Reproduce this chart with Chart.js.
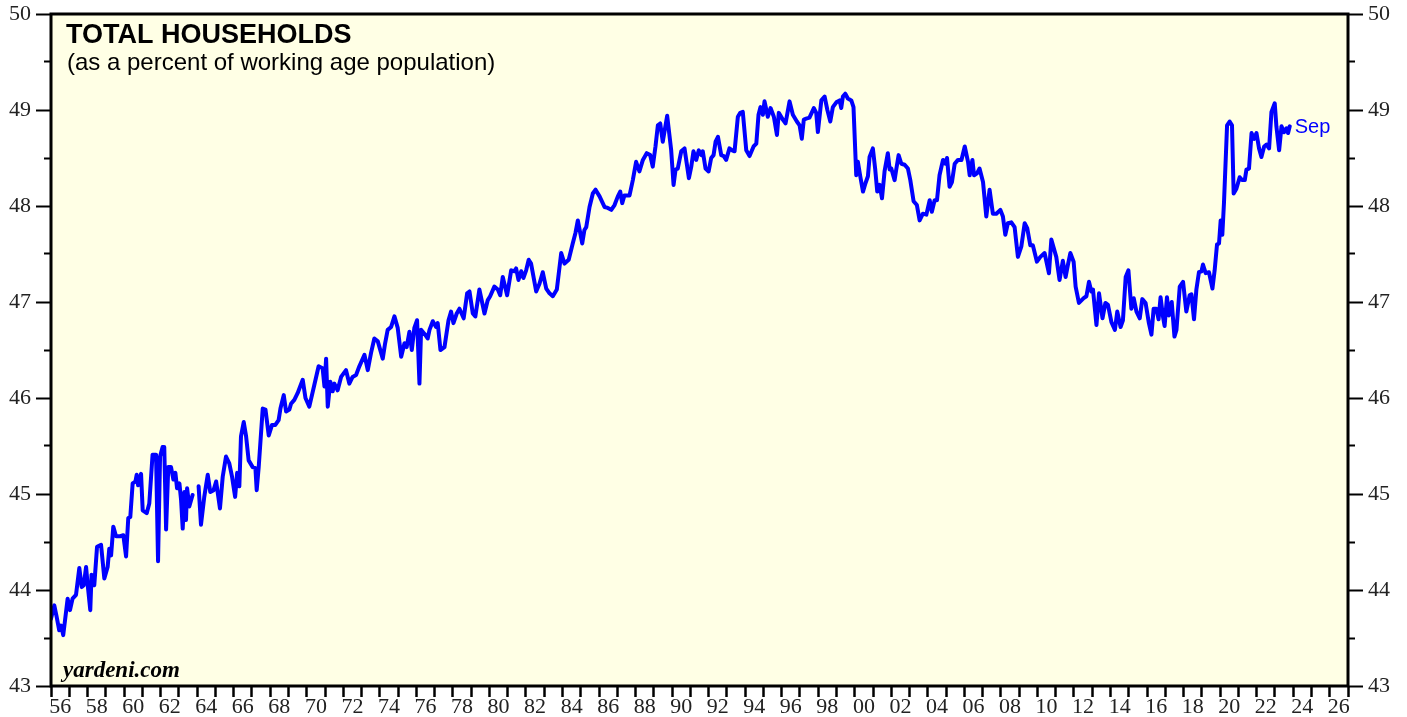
<!DOCTYPE html>
<html>
<head>
<meta charset="utf-8">
<title>Total Households</title>
<script src="https://cdn.jsdelivr.net/npm/chart.js@4.4.1/dist/chart.umd.min.js"></script>
<style>
	html, body { margin: 0; padding: 0; background: #ffffff; }
	#wrap { position: relative; width: 1407px; height: 717px; }
</style>
</head>
<body>
<div id="wrap"><canvas id="householdsChart"></canvas></div>
<script>
// decimal year of each reading (null value = break in the series)
var dates = [
	1956.00, 1956.18, 1956.31, 1956.45, 1956.55, 1956.67, 1956.91, 1957.04, 1957.18, 1957.37,
	1957.55, 1957.68, 1957.79, 1957.92, 1958.00, 1958.15, 1958.22, 1958.37, 1958.52, 1958.74,
	1958.92, 1959.10, 1959.19, 1959.29, 1959.41, 1959.56, 1959.79, 1959.96, 1960.11, 1960.23,
	1960.34, 1960.47, 1960.62, 1960.69, 1960.77, 1960.93, 1961.02, 1961.24, 1961.38, 1961.56,
	1961.75, 1961.86, 1961.97, 1962.11, 1962.20, 1962.30, 1962.42, 1962.57, 1962.70, 1962.81,
	1962.90, 1963.03, 1963.12, 1963.21, 1963.30, 1963.39, 1963.45, 1963.57, 1963.75, 1963.90,
	1964.08, 1964.21, 1964.39, 1964.58, 1964.72, 1964.90, 1965.04, 1965.25, 1965.40, 1965.58,
	1965.76, 1965.91, 1966.08, 1966.19, 1966.31, 1966.40, 1966.55, 1966.68, 1966.82, 1967.04,
	1967.19, 1967.26, 1967.37, 1967.59, 1967.74, 1967.92, 1968.10, 1968.28, 1968.46, 1968.56,
	1968.74, 1968.87, 1969.05, 1969.14, 1969.32, 1969.50, 1969.78, 1969.93, 1970.14, 1970.42,
	1970.65, 1970.87, 1970.97, 1971.06, 1971.15, 1971.29, 1971.42, 1971.51, 1971.69, 1971.88,
	1972.15, 1972.33, 1972.51, 1972.70, 1972.88, 1973.16, 1973.34, 1973.52, 1973.70, 1973.89,
	1974.16, 1974.29, 1974.43, 1974.62, 1974.80, 1974.98, 1975.17, 1975.35, 1975.47, 1975.62,
	1975.75, 1975.89, 1976.04, 1976.17, 1976.26, 1976.44, 1976.62, 1976.72, 1976.90, 1977.08,
	1977.17, 1977.32, 1977.54, 1977.76, 1977.90, 1978.03, 1978.21, 1978.36, 1978.59, 1978.78,
	1978.91, 1979.09, 1979.23, 1979.45, 1979.73, 1979.91, 1980.04, 1980.27, 1980.46, 1980.59,
	1980.73, 1980.97, 1981.19, 1981.37, 1981.46, 1981.59, 1981.74, 1981.86, 1982.01, 1982.15,
	1982.28, 1982.56, 1982.74, 1982.92, 1983.11, 1983.29, 1983.47, 1983.69, 1983.93, 1984.11,
	1984.34, 1984.56, 1984.71, 1984.84, 1985.08, 1985.20, 1985.30, 1985.48, 1985.66, 1985.81,
	1986.03, 1986.30, 1986.48, 1986.67, 1986.85, 1987.03, 1987.16, 1987.27, 1987.39, 1987.67,
	1987.85, 1988.03, 1988.21, 1988.40, 1988.61, 1988.80, 1988.94, 1989.09, 1989.22, 1989.35,
	1989.49, 1989.73, 1989.95, 1990.08, 1990.19, 1990.31, 1990.50, 1990.68, 1990.92, 1991.05,
	1991.17, 1991.32, 1991.46, 1991.60, 1991.68, 1991.83, 1992.00, 1992.14, 1992.27, 1992.38,
	1992.51, 1992.69, 1992.83, 1992.96, 1993.14, 1993.29, 1993.42, 1993.60, 1993.73, 1993.87,
	1994.06, 1994.24, 1994.46, 1994.61, 1994.73, 1994.84, 1994.97, 1995.06, 1995.24, 1995.39,
	1995.57, 1995.74, 1995.84, 1996.06, 1996.21, 1996.43, 1996.61, 1996.83, 1996.98, 1997.10,
	1997.21, 1997.34, 1997.52, 1997.76, 1997.89, 1997.98, 1998.17, 1998.35, 1998.50, 1998.66,
	1998.80, 1998.99, 1999.17, 1999.26, 1999.35, 1999.48, 1999.62, 1999.81, 1999.93, 2000.08,
	2000.17, 2000.30, 2000.45, 2000.59, 2000.72, 2000.81, 2000.99, 2001.12, 2001.23, 2001.36,
	2001.49, 2001.63, 2001.81, 2001.91, 2002.00, 2002.18, 2002.27, 2002.40, 2002.55, 2002.73,
	2002.91, 2003.04, 2003.22, 2003.40, 2003.55, 2003.73, 2003.92, 2004.10, 2004.22, 2004.37,
	2004.50, 2004.64, 2004.83, 2004.96, 2005.05, 2005.19, 2005.32, 2005.47, 2005.65, 2005.84,
	2006.02, 2006.20, 2006.29, 2006.44, 2006.53, 2006.69, 2006.83, 2007.02, 2007.20, 2007.38,
	2007.56, 2007.75, 2007.97, 2008.11, 2008.24, 2008.38, 2008.57, 2008.75, 2008.93, 2009.12,
	2009.30, 2009.44, 2009.61, 2009.75, 2009.97, 2010.16, 2010.39, 2010.63, 2010.76, 2011.03,
	2011.21, 2011.39, 2011.54, 2011.67, 2011.80, 2011.98, 2012.09, 2012.27, 2012.53, 2012.68,
	2012.82, 2012.95, 2013.04, 2013.23, 2013.37, 2013.56, 2013.72, 2013.86, 2014.05, 2014.24,
	2014.37, 2014.55, 2014.68, 2014.83, 2014.98, 2015.14, 2015.27, 2015.42, 2015.60, 2015.74,
	2015.92, 2016.10, 2016.24, 2016.36, 2016.51, 2016.63, 2016.74, 2016.87, 2016.96, 2017.09,
	2017.20, 2017.35, 2017.50, 2017.61, 2017.79, 2017.97, 2018.15, 2018.33, 2018.43, 2018.57,
	2018.70, 2018.84, 2018.98, 2019.06, 2019.21, 2019.39, 2019.58, 2019.70, 2019.83, 2019.94,
	2020.03, 2020.12, 2020.21, 2020.38, 2020.52, 2020.65, 2020.74, 2020.89, 2021.07, 2021.20,
	2021.35, 2021.44, 2021.58, 2021.72, 2021.86, 2021.99, 2022.13, 2022.26, 2022.41, 2022.54,
	2022.68, 2022.81, 2022.99, 2023.08, 2023.23, 2023.36, 2023.50, 2023.63, 2023.72, 2023.81
];

// households as a percent of working age population
var households = [
	43.70, 43.84, 43.72, 43.58, 43.63, 43.53, 43.91, 43.79, 43.91, 43.95,
	44.23, 44.03, 44.05, 44.24, 44.07, 43.79, 44.16, 44.05, 44.45, 44.47,
	44.12, 44.24, 44.43, 44.36, 44.66, 44.56, 44.56, 44.57, 44.35, 44.75,
	44.76, 45.11, 45.13, 45.20, 45.09, 45.21, 44.83, 44.80, 44.90, 45.41,
	45.41, 44.30, 45.39, 45.49, 45.49, 44.63, 45.28, 45.28, 45.15, 45.22,
	45.06, 45.11, 44.94, 44.64, 45.02, 44.73, 45.06, 44.87, 44.99, null,
	45.08, 44.68, 44.97, 45.20, 45.02, 45.04, 45.13, 44.85, 45.18, 45.39,
	45.32, 45.18, 44.97, 45.22, 45.08, 45.60, 45.75, 45.60, 45.35, 45.28,
	45.27, 45.04, 45.28, 45.89, 45.88, 45.61, 45.72, 45.72, 45.77, 45.89,
	46.03, 45.86, 45.88, 45.94, 45.98, 46.05, 46.19, 46.00, 45.91, 46.14,
	46.33, 46.31, 46.12, 46.41, 45.91, 46.17, 46.07, 46.15, 46.08, 46.22,
	46.29, 46.15, 46.22, 46.24, 46.33, 46.45, 46.29, 46.47, 46.62, 46.59,
	46.41, 46.57, 46.71, 46.74, 46.85, 46.73, 46.43, 46.57, 46.53, 46.69,
	46.50, 46.73, 46.81, 46.15, 46.71, 46.67, 46.62, 46.71, 46.80, 46.74,
	46.78, 46.50, 46.53, 46.81, 46.90, 46.78, 46.88, 46.93, 46.83, 47.09,
	47.11, 46.88, 46.85, 47.13, 46.88, 47.02, 47.06, 47.16, 47.13, 47.07,
	47.26, 47.07, 47.33, 47.32, 47.35, 47.23, 47.32, 47.25, 47.33, 47.44,
	47.40, 47.11, 47.19, 47.31, 47.14, 47.09, 47.06, 47.13, 47.51, 47.40,
	47.44, 47.61, 47.72, 47.85, 47.61, 47.75, 47.78, 47.99, 48.13, 48.17,
	48.10, 47.99, 47.98, 47.96, 48.01, 48.10, 48.15, 48.03, 48.11, 48.11,
	48.27, 48.46, 48.36, 48.48, 48.55, 48.53, 48.41, 48.62, 48.84, 48.86,
	48.67, 48.94, 48.58, 48.22, 48.38, 48.39, 48.57, 48.60, 48.29, 48.41,
	48.57, 48.48, 48.58, 48.53, 48.57, 48.39, 48.36, 48.50, 48.53, 48.67,
	48.72, 48.53, 48.52, 48.48, 48.60, 48.58, 48.57, 48.93, 48.97, 48.98,
	48.58, 48.52, 48.62, 48.65, 48.95, 49.03, 48.95, 49.09, 48.93, 49.02,
	48.93, 48.74, 48.97, 48.90, 48.86, 49.09, 48.95, 48.88, 48.84, 48.70,
	48.90, 48.91, 48.92, 49.02, 48.97, 48.77, 49.10, 49.14, 49.00, 48.88,
	49.03, 49.08, 49.10, 49.02, 49.14, 49.17, 49.12, 49.10, 49.03, 48.32,
	48.46, 48.31, 48.15, 48.24, 48.31, 48.51, 48.60, 48.38, 48.15, 48.22,
	48.08, 48.36, 48.55, 48.38, 48.39, 48.27, 48.38, 48.53, 48.44, 48.43,
	48.39, 48.27, 48.05, 48.01, 47.85, 47.92, 47.91, 48.06, 47.94, 48.06,
	48.06, 48.32, 48.48, 48.44, 48.50, 48.20, 48.25, 48.44, 48.48, 48.48,
	48.62, 48.46, 48.32, 48.48, 48.32, 48.34, 48.39, 48.25, 47.89, 48.17,
	47.92, 47.92, 47.96, 47.89, 47.70, 47.82, 47.83, 47.78, 47.47, 47.58,
	47.82, 47.77, 47.59, 47.59, 47.42, 47.47, 47.51, 47.30, 47.65, 47.47,
	47.23, 47.43, 47.26, 47.39, 47.51, 47.42, 47.16, 46.99, 47.04, 47.06,
	47.21, 47.11, 47.13, 46.76, 47.09, 46.83, 46.99, 46.97, 46.79, 46.71,
	46.90, 46.74, 46.81, 47.26, 47.33, 46.93, 47.04, 46.90, 46.83, 47.03,
	46.99, 46.78, 46.66, 46.93, 46.93, 46.82, 47.05, 46.85, 46.75, 47.05,
	46.86, 47.00, 46.64, 46.71, 47.16, 47.21, 46.90, 47.07, 47.08, 46.82,
	47.13, 47.31, 47.32, 47.39, 47.30, 47.31, 47.14, 47.33, 47.60, 47.61,
	47.85, 47.70, 48.03, 48.84, 48.88, 48.84, 48.13, 48.18, 48.30, 48.27,
	48.27, 48.38, 48.39, 48.76, 48.70, 48.76, 48.60, 48.51, 48.62, 48.64,
	48.60, 48.98, 49.07, 48.83, 48.58, 48.83, 48.77, 48.81, 48.76, 48.83
];

var xTickYears = [
	1956, 1958, 1960, 1962, 1964, 1966, 1968, 1970, 1972, 1974, 1976, 1978,
	1980, 1982, 1984, 1986, 1988, 1990, 1992, 1994, 1996, 1998, 2000, 2002,
	2004, 2006, 2008, 2010, 2012, 2014, 2016, 2018, 2020, 2022, 2024, 2026
];
var xTickLabels = [
	'56', '58', '60', '62', '64', '66', '68', '70', '72', '74', '76', '78',
	'80', '82', '84', '86', '88', '90', '92', '94', '96', '98', '00', '02',
	'04', '06', '08', '10', '12', '14', '16', '18', '20', '22', '24', '26'
];
var lastLabel = 'Sep';

var colors = {
	line: '#0000ff',
	plotBg: '#ffffe5',
	ink: '#000000',
	label: '#222222'
};

var axisFont = { family: '"Liberation Serif", "Times New Roman", serif', size: 22 };

function isWhole(v) {
	return Math.abs(v - Math.round(v)) < 1e-9;
}

// year ticks at every year, label positions in the middle of even years
function buildYearTicks(axis) {
	var t = [];
	for (var yr = 1956; yr <= 2027; yr++) {
		t.push({ value: yr });
	}
	xTickYears.forEach(function (yr) {
		t.push({ value: yr + 0.5 });
	});
	t.sort(function (a, b) { return a.value - b.value; });
	axis.ticks = t;
}

function yearLabel(value) {
	var i = xTickYears.indexOf(value - 0.5);
	return i < 0 ? '' : xTickLabels[i];
}

function valueLabel(value) {
	return isWhole(value) ? String(Math.round(value)) : '';
}

// fixed axis widths so the plot area sits where the original has it
function fitValueAxis(width) {
	return function (axis) {
		axis.width = width;
		axis.paddingTop = 0;
		axis.paddingBottom = 0;
	};
}

// plot background, frame and the texts inside the chart
var framePlugin = {
	id: 'frame',
	beforeDraw: function (chart) {
		var a = chart.chartArea;
		var ctx = chart.ctx;
		ctx.save();
		ctx.fillStyle = colors.plotBg;
		ctx.fillRect(a.left, a.top, a.right - a.left, a.bottom - a.top);
		ctx.restore();
	},
	afterDraw: function (chart) {
		var a = chart.chartArea;
		var ctx = chart.ctx;
		ctx.save();
		ctx.strokeStyle = colors.ink;
		ctx.lineWidth = 3;
		ctx.strokeRect(a.left, a.top, a.right - a.left, a.bottom - a.top);

		ctx.fillStyle = colors.ink;
		ctx.textBaseline = 'alphabetic';
		ctx.textAlign = 'left';
		ctx.font = 'bold 27px "Liberation Sans", Arial, sans-serif';
		ctx.fillText('TOTAL HOUSEHOLDS', a.left + 15, a.top + 29);
		ctx.font = '24px "Liberation Sans", Arial, sans-serif';
		ctx.fillText('(as a percent of working age population)', a.left + 16, a.top + 56);
		ctx.font = 'italic bold 23px "Liberation Serif", "Times New Roman", serif';
		ctx.fillText('yardeni.com', a.left + 12, a.bottom - 9);

		var xs = chart.scales.x;
		var ys = chart.scales.y;
		var n = dates.length - 1;
		ctx.fillStyle = colors.line;
		ctx.font = '20px "Liberation Sans", Arial, sans-serif';
		ctx.textBaseline = 'middle';
		ctx.fillText(lastLabel, xs.getPixelForValue(dates[n]) + 5, ys.getPixelForValue(households[n]) + 1);
		ctx.restore();
	}
};

var points = dates.map(function (d, i) {
	return { x: d, y: households[i] };
});

var config = {
	type: 'line',
	data: {
		datasets: [{
			label: 'Total households',
			data: points,
			borderColor: colors.line,
			borderWidth: 4,
			borderJoinStyle: 'round',
			borderCapStyle: 'round',
			pointRadius: 0,
			tension: 0,
			spanGaps: false,
			fill: false
		}]
	},
	options: {
		responsive: true,
		maintainAspectRatio: false,
		animation: false,
		layout: {
			padding: { top: 14, left: 0, right: 0, bottom: 0 }
		},
		plugins: {
			legend: { display: false },
			title: { display: false },
			tooltip: { enabled: false }
		},
		scales: {
			x: {
				type: 'linear',
				position: 'bottom',
				min: 1956,
				max: 2027,
				afterBuildTicks: buildYearTicks,
				afterFit: function (axis) {
					axis.height = 31;
					axis.paddingLeft = 0;
					axis.paddingRight = 0;
				},
				border: { display: false },
				grid: {
					drawOnChartArea: false,
					tickLength: 11,
					tickWidth: 2.5,
					tickColor: function (c) {
						return isWhole(c.tick.value) ? colors.ink : 'rgba(0,0,0,0)';
					}
				},
				ticks: {
					autoSkip: false,
					maxRotation: 0,
					padding: -3,
					color: colors.label,
					font: axisFont,
					callback: yearLabel
				}
			},
			y: {
				type: 'linear',
				position: 'left',
				min: 43,
				max: 50,
				afterFit: fitValueAxis(51),
				border: { display: false },
				grid: {
					drawOnChartArea: false,
					tickLength: 15,
					tickWidth: 2,
					tickColor: colors.ink,
					// half-point ticks are shorter: only the inner 7px is drawn
					tickBorderDash: function (c) {
						return isWhole(c.tick.value) ? [] : [7, 8];
					},
					tickBorderDashOffset: function (c) {
						return isWhole(c.tick.value) ? 0 : 7;
					}
				},
				ticks: {
					stepSize: 0.5,
					autoSkip: false,
					padding: 5,
					color: colors.label,
					font: axisFont,
					callback: valueLabel
				}
			},
			y2: {
				type: 'linear',
				position: 'right',
				min: 43,
				max: 50,
				afterFit: fitValueAxis(59),
				border: { display: false },
				grid: {
					drawOnChartArea: false,
					tickLength: 15,
					tickWidth: 2,
					tickColor: colors.ink,
					tickBorderDash: function (c) {
						return isWhole(c.tick.value) ? [] : [7, 10];
					}
				},
				ticks: {
					stepSize: 0.5,
					autoSkip: false,
					padding: 5,
					color: colors.label,
					font: axisFont,
					callback: valueLabel
				}
			}
		}
	},
	plugins: [framePlugin]
};

var householdsChart = new Chart(document.getElementById('householdsChart'), config);
</script>
</body>
</html>
